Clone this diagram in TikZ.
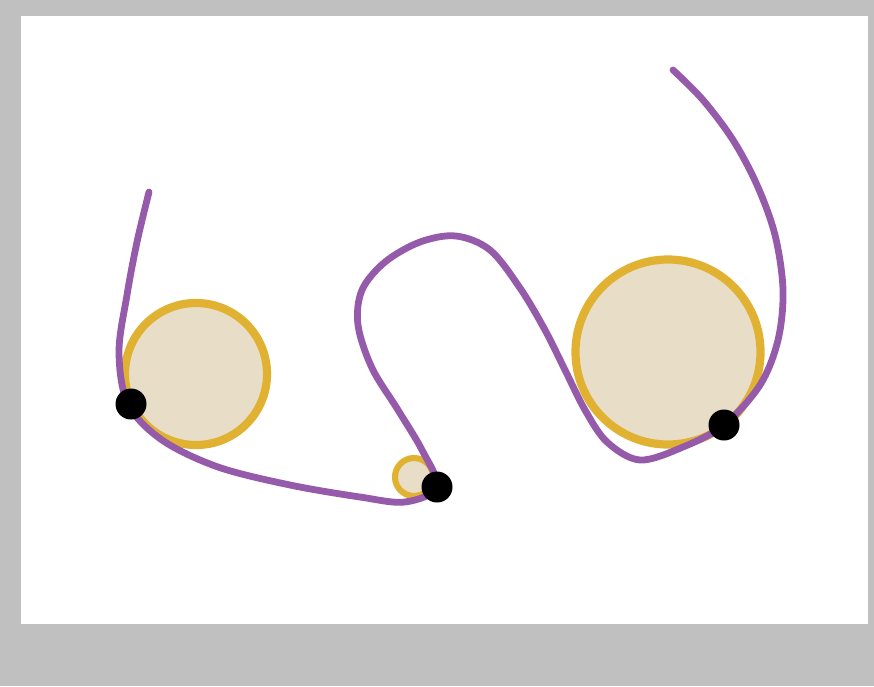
\documentclass[tikz,border=0pt]{standalone}
\usepackage{xcolor}
\usepackage{tikz}
\definecolor{RopePurple}{HTML}{965AAA}
\definecolor{RingGold}{HTML}{E1B232}
\definecolor{DiscBeige}{HTML}{E8DEC8}
\definecolor{FrameGray}{HTML}{C0C0C0}

\begin{document}
\begin{tikzpicture}[
    x=0.03cm, y=-0.03cm,
    disc/.style={circle, draw=RingGold, line width=7pt, fill=DiscBeige, inner sep=0pt},
    knot/.style={circle, fill=black, inner sep=0pt, minimum size=0.93cm},
    rope/.style={draw=RopePurple, line width=5.8pt, line cap=round, line join=round}
  ]
    \useasboundingbox (0,0) rectangle (874,686);
    \fill[FrameGray] (0,0) rectangle (874,686);
    \fill[white] (21,16) rectangle (868,624);

    \node[disc, minimum size=4.26cm] (wheelA) at (196,374) {};
    \node[disc, minimum size=1.14cm, line width=5.2pt] (wheelB) at (414,477) {};
    \node[disc, minimum size=5.55cm] (wheelC) at (668,352) {};

    \coordinate (contactA) at (128,404);
    \coordinate (contactB) at (437,487);
    \coordinate (contactC) at (724,425);

    \draw[rope] plot[smooth, tension=0.55] coordinates {
      (149,192) (137,242) (127,295) (119,352) (contactA) (162,440) (218,467)
      (290,485) (360,497) (405,502) (contactB) (422,450) (398,410) (372,368)
      (358,325) (362,290) (385,262) (420,242) (456,236) (490,250) (520,288)
      (545,330) (565,370) (585,410) (607,442) (640,460) (683,447) (contactC)
      (760,385) (778,340) (783,290) (775,235) (757,185) (733,140) (703,100)
      (673,70)};

    \node[knot] (knotA) at (131,404) {};
    \node[knot] (knotB) at (contactB) {};
    \node[knot] (knotC) at (contactC) {};
  \end{tikzpicture}
\end{document}
